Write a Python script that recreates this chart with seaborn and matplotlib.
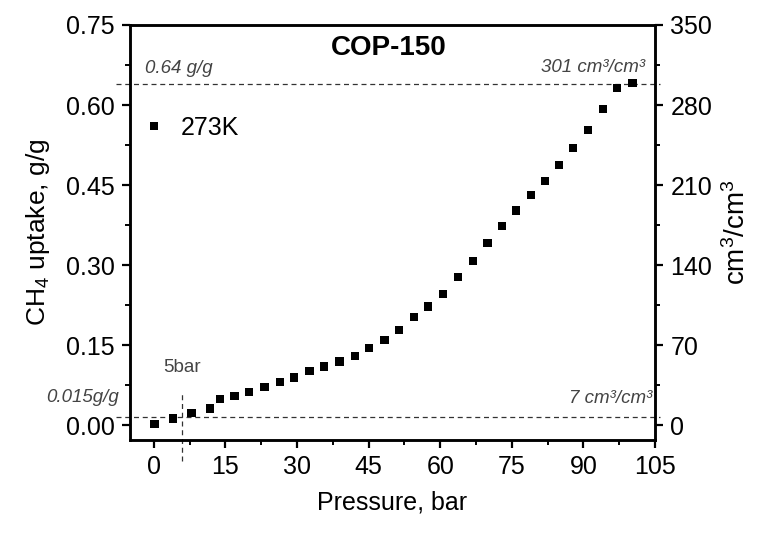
import matplotlib
matplotlib.use("Agg")
import matplotlib.pyplot as plt
import seaborn as sns
import pandas as pd
from matplotlib.ticker import MultipleLocator

# ---- data ----
pressure = [0.1, 4.0, 7.9, 11.7, 13.8, 16.9, 20.0, 23.2, 26.4, 29.4, 32.6, 35.7,
            38.9, 42.1, 45.1, 48.3, 51.3, 54.5, 57.5, 60.6, 63.7, 66.8, 69.9,
            72.9, 75.9, 79.0, 81.9, 84.9, 87.8, 91.0, 94.1, 97.0, 100.3]
uptake = [0.002, 0.0125, 0.022, 0.031, 0.049, 0.054, 0.062, 0.071, 0.081, 0.089,
          0.101, 0.110, 0.119, 0.129, 0.144, 0.159, 0.178, 0.202, 0.222, 0.246,
          0.278, 0.308, 0.341, 0.373, 0.402, 0.431, 0.458, 0.488, 0.519, 0.553,
          0.592, 0.632, 0.641]
series_label = "273K"
x_ticks = [0, 15, 30, 45, 60, 75, 90, 105]
y_ticks = [0.00, 0.15, 0.30, 0.45, 0.60, 0.75]
y2_ticks = [0, 70, 140, 210, 280, 350]
max_gg = 0.64
max_vv = 301
low_gg = 0.015
low_vv = 7
p_mark = 5.8

sns.set_theme(style="ticks")
plt.rcParams["font.family"] = ["Liberation Sans", "DejaVu Sans"]
plt.rcParams["mathtext.fontset"] = "custom"
plt.rcParams["mathtext.rm"] = "Liberation Sans"
plt.rcParams["mathtext.it"] = "Liberation Sans:italic"
plt.rcParams["text.color"] = "black"
plt.rcParams["axes.labelcolor"] = "black"
plt.rcParams["xtick.color"] = "black"
plt.rcParams["ytick.color"] = "black"

df = pd.DataFrame({"Pressure": pressure, "Uptake": uptake, "T": series_label})

fig = plt.figure(figsize=(7.66, 5.36), dpi=100)
ax = fig.add_axes([130 / 766, 1 - 440 / 536, 525 / 766, 415 / 536])

sns.scatterplot(data=df, x="Pressure", y="Uptake", hue="T", palette=["black"],
                marker="s", s=36, edgecolor="black", linewidth=0, ax=ax, zorder=5)

ax.set_xlim(-5, 105)
ax.set_ylim(-0.028, 0.75)
ax.set_xticks(x_ticks)
ax.set_xticklabels([str(t) for t in x_ticks])
ax.set_yticks(y_ticks)
ax.set_yticklabels([f"{t:.2f}" for t in y_ticks])
ax.xaxis.set_minor_locator(MultipleLocator(7.5))
ax.yaxis.set_minor_locator(MultipleLocator(0.075))

for s in ax.spines.values():
    s.set_linewidth(1.8)
    s.set_color("black")

ax.tick_params(axis="both", which="major", direction="out", length=6, width=1.6,
               labelsize=18, colors="black", labelcolor="black", pad=5)
ax.tick_params(axis="both", which="minor", direction="out", length=3.5, width=1.4,
               colors="black")
ax.tick_params(axis="x", which="both", top=False)
ax.tick_params(axis="y", which="both", right=False)

ax.set_xlabel("Pressure, bar", fontsize=18, labelpad=8, color="black")
ax.set_ylabel("CH$_4$ uptake, g/g", fontsize=19, labelpad=10, color="black")

ax2 = ax.twinx()
ax2.set_ylim(-0.028 * 350 / 0.75, 350)
ax2.set_yticks(y2_ticks)
ax2.set_yticklabels([str(t) for t in y2_ticks])
ax2.yaxis.set_minor_locator(MultipleLocator(35))
ax2.tick_params(axis="y", which="major", direction="out", length=6, width=1.6,
                labelsize=18, colors="black", labelcolor="black", pad=5)
ax2.tick_params(axis="y", which="minor", direction="out", length=3.5, width=1.4,
                colors="black")
for s in ax2.spines.values():
    s.set_linewidth(1.8)
    s.set_color("black")
ax2.set_ylabel("cm$^3$/cm$^3$", fontsize=20, labelpad=8, color="black")

# reference lines
dash = dict(color="#333333", linestyle=(0, (4, 3)), linewidth=0.9)
ax.plot([-8, 106], [max_gg, max_gg], clip_on=False, **dash)
ax.plot([-8, 106], [low_gg, low_gg], clip_on=False, **dash)
ax.plot([p_mark, p_mark], [-0.068, 0.06], clip_on=False, **dash)

ann = dict(color="#444444", fontsize=13.5, style="italic")
ax.text(-1.9, 0.669, f"{max_gg:.2f} g/g", ha="left", va="center", **ann)
ax.text(102.9, 0.670, f"{max_vv} cm³/cm³", ha="right", va="center", **ann)
ax.text(-7.3, 0.0525, f"{low_gg}g/g", ha="right", va="center", clip_on=False, **ann)
ax.text(104.4, 0.050, f"{low_vv} cm³/cm³", ha="right", va="center", **ann)
ax.text(1.9, 0.107, f"{int(round(p_mark - 0.8))}bar", ha="left", va="center",
        color="#444444", fontsize=13.5)

ax.text(0.493, 0.945, "COP-150", transform=ax.transAxes, ha="center", va="center",
        fontsize=20, fontweight="bold", color="black")

leg = ax.legend(loc="center left", bbox_to_anchor=(0.008, 0.752), frameon=False,
                fontsize=18, handlelength=1.0, handletextpad=0.55, borderpad=0,
                borderaxespad=0.3, markerscale=1.0)
for t in leg.get_texts():
    t.set_color("black")

fig.savefig("out.png", dpi=100)
